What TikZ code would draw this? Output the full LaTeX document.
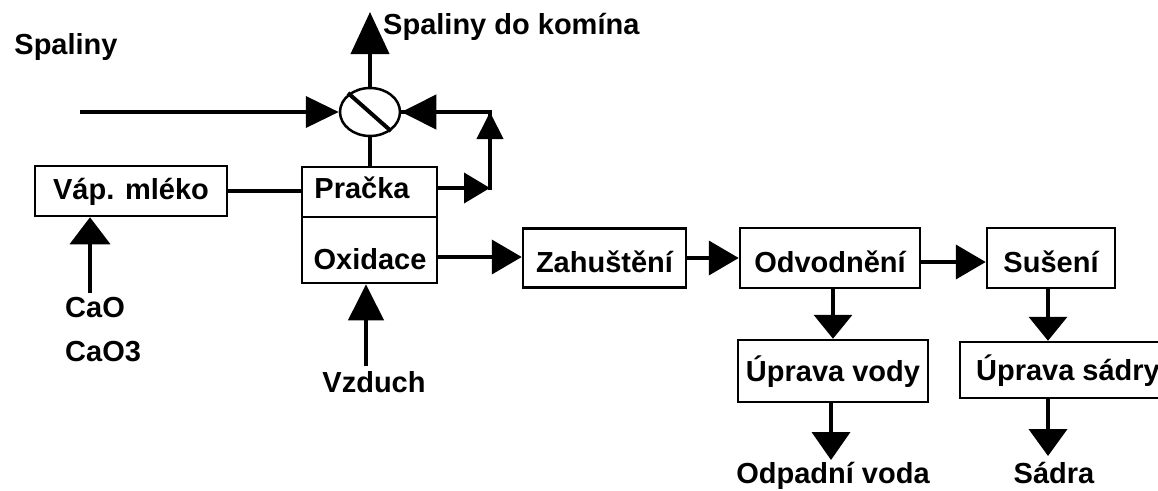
\documentclass[tikz,border=0pt]{standalone}
\usepackage{fontspec}
\setmainfont{Liberation Sans}
\usetikzlibrary{arrows.meta,calc,shapes.geometric}
\begin{document}
\begin{tikzpicture}[x=1pt,y=-1pt,
  every node/.style={font=\bfseries\fontsize{29}{32}\selectfont, inner sep=0pt, text height=21pt, text depth=0pt},
  box/.style={draw, line width=2.5pt, inner sep=0pt},
  low/.style={text height=29pt, text depth=0pt},
  plain/.style={line width=4pt},
  tip/.style 2 args={line width=4pt, -{Triangle[length=#1pt,width=#2pt]}},
  flow/.style={tip={30}{34}}]
\useasboundingbox (0,0) rectangle (1158,490);

% texts
\node (spal) at (66,44) {Spaliny};
\node[anchor=west] (komin) at (383,24) {Spaliny do komína};
\node[anchor=west] (cao) at (65,307) {CaO};
\node[anchor=west] (caco) at (65,351) {CaO3};
\node (vzd) at (374,382) {Vzduch};
\node (odp) at (833,473) {Odpadní voda};
\node (sad) at (1054,473) {Sádra};

% valve
\node[draw, ellipse, line width=2.5pt, minimum width=60pt, minimum height=48pt, inner sep=0pt] (valve) at (370,112) {};
\draw[line width=4pt] ($(valve.center)+(-22,-19)$) -- ($(valve.center)+(21,19)$);

% scrubber
\node[box, minimum width=135pt, minimum height=116pt] (scrub) at (369.5,225) {};
\coordinate (div) at (0,217);
\draw[line width=2.5pt] (scrub.west |- div) -- (scrub.east |- div);
\node (prac) at (362,188) {Pračka};
\node (oxid) at (370,259) {Oxidace};

% boxes
\node[box, minimum width=192pt, minimum height=50pt, text depth=4pt] (vap) at (131,191) {Váp. mléko};
\node[box, low, minimum width=163pt, minimum height=59pt] (zah) at (604.5,258) {Zahuštění};
\node[box, low, minimum width=180pt, minimum height=60pt] (odv) at (830,258) {Odvodnění};
\node[box, low, minimum width=128pt, minimum height=60pt] (sus) at (1051,258) {Sušení};
\node[box, minimum width=190pt, minimum height=62pt] (upv) at (833,371) {Úprava vody};
\node[box, minimum width=216pt, minimum height=56pt] (ups) at (1068,370) {Úprava sádry};

% top connectors
\coordinate (kt) at (370,12);
\draw[tip={42}{38}] (valve.north) -- (kt);
\coordinate (sin) at (80,112);
\draw[tip={33}{31}] (sin) -- (valve.west);
\draw[plain] (valve.south) -- (scrub.north -| valve.south);

% recirculation loop
\coordinate (c1) at (490,112);
\coordinate (c2) at (490,188);
\draw[plain, line cap=rect] (c2) -- (c1) -- (valve.east);
\draw[tip={35}{34}] (c1) -- (valve.east);
\draw[tip={27}{26}] (c2) -- (c1);
\draw[tip={26}{30}] (scrub.east |- c2) -- (c2);

% lime milk
\draw[plain] (vap.east) -- (scrub.west |- vap.east);
\coordinate (ct) at (90,293);
\draw[tip={27}{40}] (ct) -- (ct |- vap.south);

% air
\coordinate (vt) at (366,366);
\draw[tip={36}{35}] (vt) -- (vt |- scrub.south);

% main line
\draw[flow] (scrub.east |- 0,257) -- (zah.west |- 0,257);
\draw[flow] (zah.east) -- (odv.west);
\draw[flow] (odv.east |- 0,262) -- (sus.west |- 0,262);

% down branches
\draw[tip={24}{38}] (odv.south -| upv.north) -- (upv.north);
\coordinate (sx) at (1048,0);
\draw[tip={24}{38}] (sus.south -| sx) -- (ups.north -| sx);
\coordinate (ot) at (831,460);
\draw[tip={28}{38}] (upv.south -| ot) -- (ot);
\coordinate (st) at (1048,456);
\draw[tip={27}{38}] (ups.south -| st) -- (st);
\end{tikzpicture}
\end{document}
